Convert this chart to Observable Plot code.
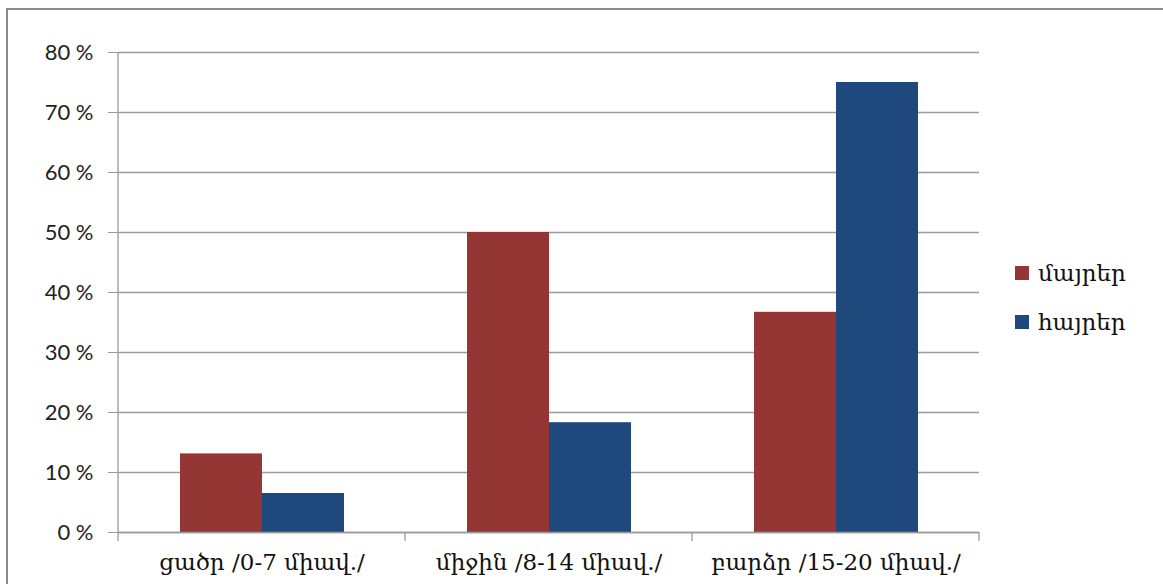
<!DOCTYPE html>
<html>
<head>
<meta charset="utf-8">
<script src="https://cdn.jsdelivr.net/npm/d3@7"></script>
<script src="https://cdn.jsdelivr.net/npm/@observablehq/plot@0.6"></script>
<style>
  html, body { margin: 0; padding: 0; background: #fff; width: 1163px; height: 584px; overflow: hidden; }
  #wrap { position: relative; width: 1163px; height: 584px; }
  #border { position: absolute; left: 6px; top: 8px; width: 1200px; height: 700px; border: 2px solid #8a8a8a; box-sizing: border-box; }
  #chart { position: absolute; left: 0; top: 0; }
  #legend { position: absolute; left: 1015px; top: 248px; font-family: "DejaVu Serif", serif; font-size: 23px; color: #111; }
  .item { display: flex; align-items: center; height: 49px; }
  .sw { width: 14px; height: 14px; margin-right: 9px; }
</style>
</head>
<body>
<div id="wrap">
  <div id="border"></div>
  <div id="chart"></div>
  <div id="legend"></div>
</div>
<script>
const categories = ["ցածր /0-7 միավ./", "միջին /8-14 միավ./", "բարձր /15-20 միավ./"];
const series = ["մայրեր", "հայրեր"];
const mothers = [13.1, 50, 36.7];
const fathers = [6.5, 18.3, 75];
const yTicks = [0, 10, 20, 30, 40, 50, 60, 70, 80];
const colors = ["#943634", "#1F497D"];

const data = [];
categories.forEach((c, i) => {
  data.push({cat: c, s: series[0], v: mothers[i]});
  data.push({cat: c, s: series[1], v: fathers[i]});
});

const chart = Plot.plot({
  width: 1163,
  height: 584,
  marginLeft: 118,
  marginRight: 184,
  marginTop: 52,
  marginBottom: 52,
  style: {background: "transparent", overflow: "visible"},
  fx: {domain: categories, padding: 0, label: null},
  x: {domain: series, paddingInner: 0, paddingOuter: 0.75, axis: null},
  y: {domain: [0, 80], ticks: yTicks},
  color: {domain: series, range: colors},
  marks: [
    Plot.gridY(yTicks, {stroke: "#9a9a9a", strokeOpacity: 1, strokeWidth: 1.3}),
    Plot.barY(data, {fx: "cat", x: "s", y: "v", fill: "s"}),
    Plot.ruleY([0], {stroke: "#9a9a9a", strokeWidth: 1.3}),
    Plot.axisY(yTicks, {
      tickFormat: d => d + " %", tickSize: 10, tickPadding: 15, stroke: "#9a9a9a",
      fontSize: 22, fontFamily: "Lato, 'Open Sans', sans-serif", fill: "#222", label: null
    }),
    Plot.axisFx({
      anchor: "bottom", tickSize: 0, tickPadding: 21, fontSize: 23,
      fontFamily: "'DejaVu Serif', serif", fill: "#111", label: null
    })
  ]
});
document.getElementById("chart").appendChild(chart);

// axis line and boundary ticks from the plot's own scales
const fx = chart.scale("fx");
const y = chart.scale("y");
const svg = d3.select(chart);
const g = svg.append("g").attr("stroke", "#9a9a9a").attr("stroke-width", 1.3);
const x0 = fx.apply(categories[0]);
g.append("line").attr("x1", x0).attr("x2", x0).attr("y1", y.apply(0)).attr("y2", y.apply(80));
const bounds = categories.map(c => fx.apply(c)).concat([fx.apply(categories[categories.length - 1]) + fx.bandwidth]);
bounds.forEach(b => {
  g.append("line").attr("x1", b).attr("x2", b).attr("y1", y.apply(0)).attr("y2", y.apply(0) + 9);
});

const legend = document.getElementById("legend");
series.forEach((s, i) => {
  const it = document.createElement("div");
  it.className = "item";
  const sw = document.createElement("div");
  sw.className = "sw";
  sw.style.background = colors[i];
  const t = document.createElement("span");
  t.textContent = s;
  it.appendChild(sw);
  it.appendChild(t);
  legend.appendChild(it);
});
</script>
</body>
</html>
